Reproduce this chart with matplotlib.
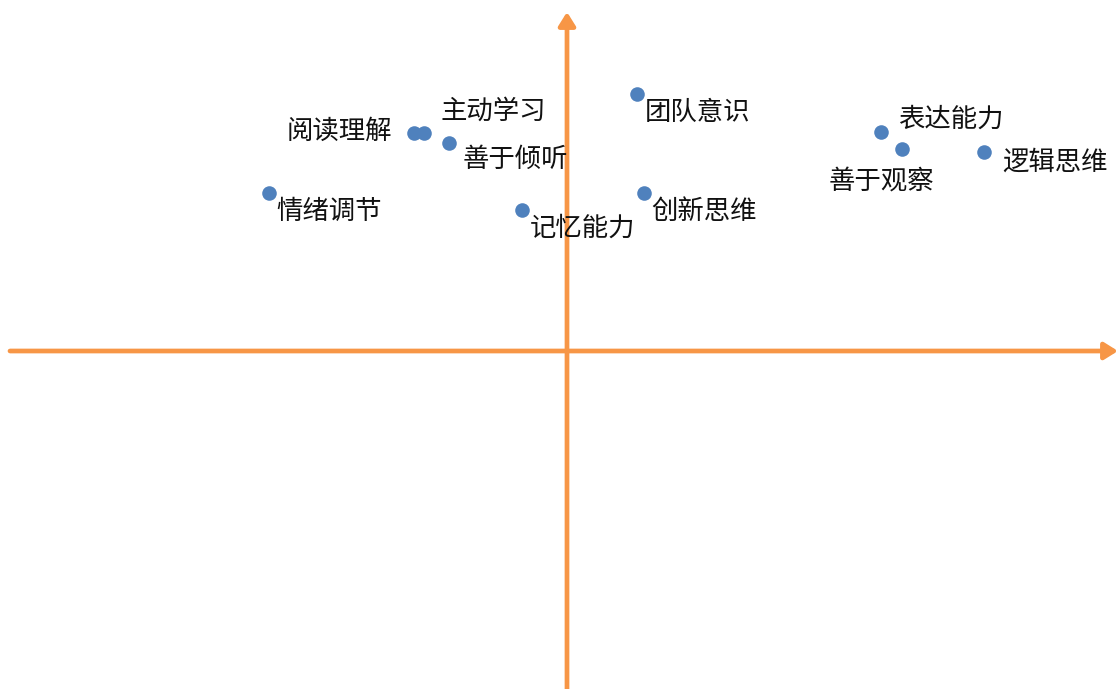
import matplotlib
matplotlib.use('Agg')
import matplotlib.pyplot as plt

plt.rcParams['font.family'] = ['Noto Sans CJK SC', 'DejaVu Sans']

# Skill positions on the two axes
labels = ['阅读理解', '主动学习', '善于倾听', '情绪调节', '记忆能力',
          '团队意识', '创新思维', '表达能力', '善于观察', '逻辑思维']
x_vals = [-1.53, -1.43, -1.18, -2.98, -0.45, 0.70, 0.77, 3.14, 3.35, 4.17]
y_vals = [2.18, 2.18, 2.08, 1.58, 1.41, 2.57, 1.58, 2.19, 2.02, 1.99]

# label offsets in pixels (dx, dy, horizontal alignment)
offsets = [(-22, 2, 'right'), (17, 22, 'left'), (14, -16, 'left'),
           (7, -18, 'left'), (8, -18, 'left'), (8, -18, 'left'),
           (7, -18, 'left'), (17, 13, 'left'), (-73, -32, 'left'),
           (18, -10, 'left')]

orange = '#F79646'
blue = '#4F81BD'

fig = plt.figure(figsize=(11.18, 6.89), dpi=100)
ax = fig.add_axes([0, 0, 1, 1])
ax.set_xlim(-5.67, 5.51)
ax.set_ylim(-3.38, 3.51)
ax.axis('off')

# axes drawn as arrows
arrow = dict(arrowstyle='-|>,head_length=0.8,head_width=0.5', color=orange,
             lw=3.4, shrinkA=0, shrinkB=0)
ax.annotate('', xy=(5.51, 0), xytext=(-5.57, 0), arrowprops=arrow)
ax.annotate('', xy=(0, 3.39), xytext=(0, -3.38), arrowprops=arrow)

ax.scatter(x_vals, y_vals, s=110, color=blue, zorder=3, linewidths=0)

for lab, xv, yv, (dx, dy, ha) in zip(labels, x_vals, y_vals, offsets):
    ax.annotate(lab, (xv, yv), xytext=(dx, dy), textcoords='offset pixels',
                ha=ha, va='center', fontsize=19, color='#111111', zorder=4)

fig.savefig('out.png', dpi=100)
